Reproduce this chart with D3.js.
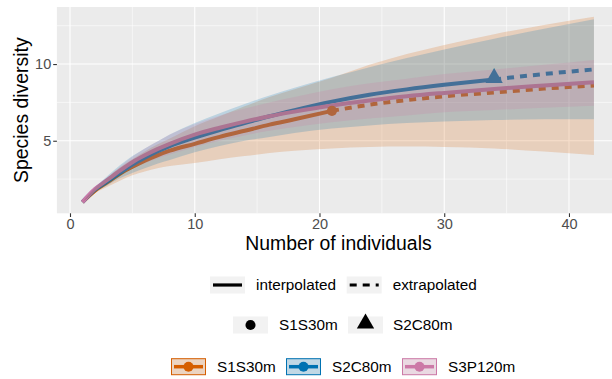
<!DOCTYPE html>
<html>
<head>
<meta charset="utf-8">
<script src="https://cdn.jsdelivr.net/npm/d3@7"></script>
<style>
  body { margin: 0; background: #fff; }
  text { font-family: "Liberation Sans", Arial, sans-serif; }
</style>
</head>
<body>
<svg id="chart" width="612" height="379"></svg>
<script>
/// data
var sites = ["S1S30m", "S2C80m", "S3P120m"];
var colors = ["#D55E00", "#0072B2", "#CC79A7"];
var shapes = ["circle", "triangle", null];
var refSize = [21, 34, 999];   // S3P120m reference sample lies beyond the plotted range
var methods = ["interpolated", "extrapolated"];

var sizes = [1, 2, 3, 4, 5, 6, 7, 8, 10, 12, 14, 16, 18, 21, 24, 27, 30, 34, 38, 42];

var s1Mean = [1.0, 1.75, 2.3, 2.85, 3.3, 3.7, 4.05, 4.35, 4.8, 5.25, 5.65, 6.05, 6.4, 6.95, 7.35, 7.65, 7.9, 8.15, 8.4, 8.6];
var s1Lo   = [1.0, 1.6, 2.0, 2.4, 2.75, 3.0, 3.2, 3.35, 3.55, 3.8, 4.0, 4.2, 4.35, 4.5, 4.6, 4.62, 4.6, 4.5, 4.3, 4.07];
var s1Hi   = [1.0, 1.9, 2.6, 3.25, 3.8, 4.3, 4.75, 5.15, 5.95, 6.6, 7.25, 7.85, 8.35, 9.1, 9.95, 10.65, 11.25, 11.95, 12.55, 13.09];

var s2Mean = [1.0, 1.8, 2.35, 2.9, 3.45, 3.9, 4.3, 4.65, 5.2, 5.7, 6.15, 6.6, 7.0, 7.55, 8.0, 8.35, 8.65, 9.0, 9.35, 9.65];
var s2Lo   = [1.0, 1.65, 2.1, 2.55, 2.9, 3.2, 3.5, 3.75, 4.25, 4.65, 5.0, 5.25, 5.5, 5.8, 6.0, 6.15, 6.25, 6.35, 6.4, 6.4];
var s2Hi   = [1.0, 1.95, 2.7, 3.4, 4.0, 4.5, 4.95, 5.4, 6.15, 6.8, 7.4, 7.95, 8.45, 9.15, 9.8, 10.4, 10.95, 11.65, 12.3, 12.92];

var s3Mean = [1.0, 1.85, 2.45, 3.05, 3.6, 4.05, 4.45, 4.8, 5.4, 5.85, 6.25, 6.6, 6.9, 7.3, 7.62, 7.9, 8.12, 8.38, 8.6, 8.81];
var s3Lo   = [1.0, 1.75, 2.3, 2.8, 3.2, 3.55, 3.85, 4.1, 4.6, 5.0, 5.35, 5.65, 5.9, 6.2, 6.45, 6.65, 6.85, 7.0, 7.15, 7.29];
var s3Hi   = [1.0, 1.95, 2.6, 3.3, 3.95, 4.5, 4.95, 5.4, 6.1, 6.65, 7.1, 7.5, 7.85, 8.35, 8.75, 9.05, 9.35, 9.65, 9.95, 10.27];

var xMajor = [0, 10, 20, 30, 40], xMinor = [5, 15, 25, 35];
var yMajor = [5, 10], yMinor = [2.5, 7.5, 12.5];

var means = [s1Mean, s2Mean, s3Mean], los = [s1Lo, s2Lo, s3Lo], his = [s1Hi, s2Hi, s3Hi];
var series = sites.map(function(s, k) {
  return sizes.map(function(n, i) {
    return {x: n, y: means[k][i], lo: los[k][i], hi: his[k][i]};
  });
});

var svg = d3.select("#chart");
var panel = {left: 56.9, right: 619.5, top: 7, bottom: 213.3};

var x = d3.scaleLinear().domain([-1.05, 44.05]).range([panel.left, panel.right]);
var y = d3.scaleLinear().domain([0.27, 13.72]).range([panel.bottom, panel.top]);

svg.append("rect").attr("width", 612).attr("height", 379).attr("fill", "#fff");
svg.append("rect")
    .attr("x", panel.left).attr("y", panel.top)
    .attr("width", panel.right - panel.left).attr("height", panel.bottom - panel.top)
    .attr("fill", "#EBEBEB");

// grid
var grid = svg.append("g");
grid.selectAll(".vmin").data(xMinor).enter().append("line")
    .attr("x1", x).attr("x2", x).attr("y1", panel.top).attr("y2", panel.bottom)
    .attr("stroke", "#fff").attr("stroke-width", 0.55);
grid.selectAll(".hmin").data(yMinor).enter().append("line")
    .attr("y1", y).attr("y2", y).attr("x1", panel.left).attr("x2", panel.right)
    .attr("stroke", "#fff").attr("stroke-width", 0.55);
grid.selectAll(".vmaj").data(xMajor).enter().append("line")
    .attr("x1", x).attr("x2", x).attr("y1", panel.top).attr("y2", panel.bottom)
    .attr("stroke", "#fff").attr("stroke-width", 1.1);
grid.selectAll(".hmaj").data(yMajor).enter().append("line")
    .attr("y1", y).attr("y2", y).attr("x1", panel.left).attr("x2", panel.right)
    .attr("stroke", "#fff").attr("stroke-width", 1.1);

var line = d3.line().x(function(d) { return x(d.x); }).y(function(d) { return y(d.y); })
    .curve(d3.curveMonotoneX);
var area = d3.area().x(function(d) { return x(d.x); })
    .y0(function(d) { return y(d.lo); }).y1(function(d) { return y(d.hi); })
    .curve(d3.curveMonotoneX);

// lines first, ribbons go over them (as in ggiNEXT)
series.forEach(function(pts, k) {
  var n = refSize[k];
  var interp = pts.filter(function(d) { return d.x <= n; });
  var extrap = pts.filter(function(d) { return d.x >= n; });
  svg.append("path").datum(interp).attr("d", line)
      .attr("fill", "none").attr("stroke", colors[k]).attr("stroke-width", 4);
  if (extrap.length > 1) {
    svg.append("path").datum(extrap).attr("d", line)
        .attr("fill", "none").attr("stroke", colors[k]).attr("stroke-width", 4)
        .attr("stroke-dasharray", "7,6");
  }
});

// observed points
var sym = {circle: d3.symbol().type(d3.symbolCircle).size(80),
           triangle: d3.symbol().type(d3.symbolTriangle).size(130)};
series.forEach(function(pts, k) {
  if (!shapes[k]) return;
  var obs = pts.filter(function(d) { return d.x === refSize[k]; });
  svg.selectAll(null).data(obs).enter().append("path")
      .attr("d", sym[shapes[k]])
      .attr("transform", function(d) { return "translate(" + x(d.x) + "," + (y(d.y) + (shapes[k] === "triangle" ? -1.5 : 0)) + ")"; })
      .attr("fill", colors[k]);
});

series.forEach(function(pts, k) {
  svg.append("path").datum(pts).attr("d", area)
      .attr("fill", colors[k]).attr("fill-opacity", 0.2);
});

// axes
var xAxis = svg.append("g").attr("transform", "translate(0," + panel.bottom + ")")
    .call(d3.axisBottom(x).tickValues(xMajor).tickSize(3.7).tickPadding(1.5));
var yAxis = svg.append("g").attr("transform", "translate(" + panel.left + ",0)")
    .call(d3.axisLeft(y).tickValues(yMajor).tickSize(3.7).tickPadding(2));
[xAxis, yAxis].forEach(function(a) {
  a.select(".domain").remove();
  a.selectAll(".tick line").attr("stroke", "#333").attr("stroke-width", 1.1);
  a.selectAll(".tick text").attr("fill", "#4D4D4D").style("font-size", "14.5px")
      .style("font-family", "Liberation Sans, Arial, sans-serif");
});

svg.append("text").attr("x", (panel.left + 612) / 2 + 4).attr("y", 249.5)
    .attr("text-anchor", "middle").style("font-size", "19.4px").text("Number of individuals");
svg.append("text").attr("transform", "translate(27.5," + ((panel.top + panel.bottom) / 2) + ") rotate(-90)")
    .attr("text-anchor", "middle").style("font-size", "19.4px").text("Species diversity");

/// legends
var keyW = 35, keyH = 17, fs = "15.3px";

// method legend
var row1 = [{x: 210, tx: 256, dash: null}, {x: 346.7, tx: 392.7, dash: "7,6"}];
row1.forEach(function(r, i) {
  var cy = 285;
  svg.append("rect").attr("x", r.x).attr("y", cy - keyH / 2).attr("width", keyW).attr("height", keyH)
      .attr("fill", "#F2F2F2");
  svg.append("line").attr("x1", r.x + 3).attr("x2", r.x + keyW - 3).attr("y1", cy).attr("y2", cy)
      .attr("stroke", "#000").attr("stroke-width", 3.2).attr("stroke-dasharray", r.dash);
  svg.append("text").attr("x", r.tx).attr("y", cy + 5.3).style("font-size", fs).text(methods[i]);
});

// shape legend
var row2 = [{x: 233, tx: 279}, {x: 348, tx: 393}];
row2.forEach(function(r, i) {
  var cy = 325;
  svg.append("rect").attr("x", r.x).attr("y", cy - keyH / 2).attr("width", keyW).attr("height", keyH)
      .attr("fill", "#F2F2F2");
  svg.append("path").attr("d", sym[shapes[i]])
      .attr("transform", "translate(" + (r.x + keyW / 2) + "," + (cy + (i ? -1.5 : 0)) + ")")
      .attr("fill", "#000");
  svg.append("text").attr("x", r.tx).attr("y", cy + 5.3).style("font-size", fs).text(sites[i]);
});

// colour legend
var row3 = [{x: 171, tx: 217}, {x: 286, tx: 332}, {x: 402, tx: 448}];
row3.forEach(function(r, i) {
  var cy = 366.7;
  svg.append("rect").attr("x", r.x).attr("y", cy - keyH / 2).attr("width", keyW).attr("height", keyH)
      .attr("fill", "#F2F2F2");
  svg.append("rect").attr("x", r.x + 0.5).attr("y", cy - keyH / 2 + 0.5).attr("width", keyW - 1).attr("height", keyH - 1)
      .attr("fill", colors[i]).attr("fill-opacity", 0.2).attr("stroke", colors[i]).attr("stroke-width", 1);
  svg.append("line").attr("x1", r.x + 3).attr("x2", r.x + keyW - 3).attr("y1", cy).attr("y2", cy)
      .attr("stroke", colors[i]).attr("stroke-width", 3.5);
  svg.append("circle").attr("cx", r.x + keyW / 2).attr("cy", cy).attr("r", 5).attr("fill", colors[i]);
  svg.append("text").attr("x", r.tx).attr("y", cy + 5.3).style("font-size", fs).text(sites[i]);
});
</script>
</body>
</html>
